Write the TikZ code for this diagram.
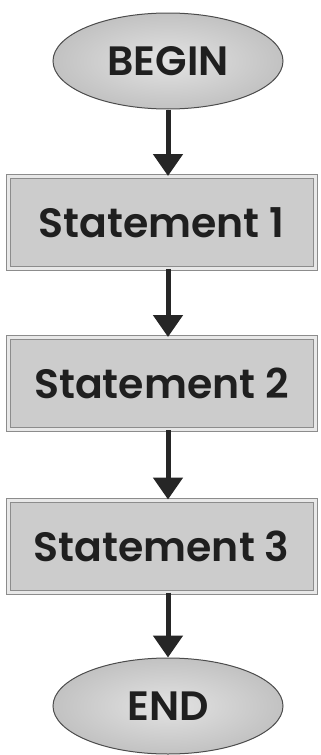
\documentclass[tikz,border=0pt]{standalone}
\usepackage{fontspec}
\setmainfont{Poppins}[BoldFont={* SemiBold}]
\usetikzlibrary{shapes.geometric,arrows.meta}

\begin{document}
\begin{tikzpicture}
	[x=1pt, y=1pt, font=\bfseries\fontsize{41}{43}\selectfont,
	every node/.style={inner sep=0pt,text=black!88},
	term/.style={ellipse,minimum width=230pt,minimum height=96pt,draw=black!70,line width=1pt,
		inner color=black!11,outer color=black!24},
	stmt/.style={rectangle,minimum width=307pt,minimum height=92pt,draw=black!45,line width=1pt,
		fill=black!20,double=black!9,double distance=3pt},
	flow/.style={line width=5pt,black!85,-{Triangle[width=29pt,length=22pt]}}]
	\useasboundingbox (0,0) rectangle (321,-755);
	\node (begin) [term] at (168,-61) {BEGIN};
	\node (s1) [stmt] at (161.5,-222.5) {Statement 1};
	\node (s2) [stmt] at (161.5,-383.5) {Statement 2};
	\node (s3) [stmt] at (161.5,-546) {Statement 3};
	\node (end) [term] at (168,-706) {END};
	\draw [flow] (begin) -- (begin |- s1.north);
	\draw [flow] (s1.south -| begin) -- (begin |- s2.north);
	\draw [flow] (s2.south -| begin) -- (begin |- s3.north);
	\draw [flow] (s3.south -| begin) -- (end);
	\end{tikzpicture}
\end{document}
